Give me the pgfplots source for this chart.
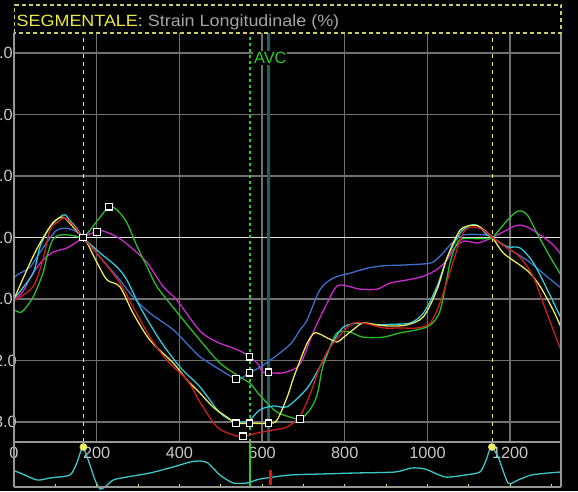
\documentclass[border=0pt]{standalone}
\usepackage{pgfplots}
\pgfplotsset{compat=1.18}
\usepackage{fontspec}
\setmainfont{Liberation Sans}
\newfontfamily\titlefont[FakeStretch=1.1]{Liberation Sans}

\definecolor{gridc}{RGB}{112,112,112}
\definecolor{framec}{RGB}{150,150,150}
\definecolor{zeroc}{RGB}{225,225,225}
\definecolor{ticktext}{RGB}{200,200,200}
\definecolor{ttl}{RGB}{235,235,60}
\definecolor{subttl}{RGB}{165,165,165}
\definecolor{boxc}{RGB}{205,205,95}
\definecolor{markc}{RGB}{235,235,100}
\definecolor{avc}{RGB}{40,205,40}
\definecolor{valve}{RGB}{30,95,95}
\definecolor{ecg}{RGB}{60,200,200}
\definecolor{sblue}{RGB}{60,110,205}
\definecolor{smag}{RGB}{205,40,205}
\definecolor{sgreen}{RGB}{40,190,40}
\definecolor{syellow}{RGB}{232,232,90}
\definecolor{scyan}{RGB}{50,200,220}
\definecolor{sred}{RGB}{205,30,30}
\definecolor{ecgred}{RGB}{225,20,20}

\newcommand{\tickfont}{\fontsize{16.3}{18}\selectfont}

\begin{document}
\begin{tikzpicture}
\fill[black] (0,0) rectangle (578pt,491pt);

% ---------------- strain curves ----------------
\begin{axis}[
  at={(14pt,49pt)}, anchor=south west,
  scale only axis, width=547pt, height=409pt,
  xmin=0, xmax=1323, ymin=-3.325, ymax=3.325,
  axis line style={draw=none},
  major tick length=0pt,
  xtick={0,200,...,1200},
  xticklabels={0,200,400,600,800,1000,1200},
  ytick={-3,-2,-1,0,1,2,3},
  yticklabels={{-3.0\kern-4pt},{-2.0\kern-4pt},-1.0,0.0,1.0,2.0,3.0},
  grid=major, grid style={gridc, line width=1.4pt},
  xticklabel style={anchor=center, yshift=-11pt, text=ticktext, font=\tickfont},
  yticklabel style={anchor=east, overlay, inner sep=0pt, xshift=-1pt, text=ticktext, font=\tickfont},
  every axis plot/.append style={line width=1.3pt},
  clip=true,
]
% zero line
\addplot[zeroc, line width=1.6pt] coordinates {(0,0) (1323,0)};
% event markers
\addplot[markc, line width=1.2pt, dash pattern=on 4pt off 4pt] coordinates {(169,-3.325) (169,3.325)};
\addplot[markc, line width=1.2pt, dash pattern=on 4pt off 4pt] coordinates {(1157,-3.325) (1157,3.325)};
\addplot[avc, line width=1.2pt, dash pattern=on 3pt off 3pt] coordinates {(571,-3.325) (571,3.325)};
\addplot[valve, line width=3pt] coordinates {(615,-3.325) (615,3.325)};

% blue
\addplot[sblue, smooth, tension=0.5] coordinates {
(2,-0.64)(15,-0.58)(39,-0.48)(63,-0.24)(87,-0.01)(104,0.12)(128,0.15)(152,0.09)(167,0)
(208,-0.32)(256,-0.69)(288,-0.97)(329,-1.23)(385,-1.50)(426,-1.78)(450,-1.94)(491,-2.12)
(537,-2.30)(554,-2.27)(569,-2.20)(595,-2.11)(627,-1.96)(661,-1.78)(675,-1.68)(692,-1.50)
(709,-1.34)(740,-0.85)(772,-0.66)(813,-0.58)(854,-0.50)(893,-0.46)(934,-0.45)(990,-0.43)
(1014,-0.40)(1038,-0.25)(1055,-0.12)(1086,0.04)(1144,0.04)(1157,0)(1193,-0.17)(1241,-0.37)
(1290,-0.64)(1323,-0.82)};
% magenta
\addplot[smag, smooth, tension=0.5] coordinates {
(2,-1.02)(22,-0.87)(46,-0.58)(70,-0.37)(94,-0.24)(128,-0.17)(150,-0.08)(167,0)(184,0.06)
(201,0.09)(213,0.11)(249,0.01)(281,-0.15)(322,-0.41)(361,-0.80)(394,-1.02)(450,-1.52)
(491,-1.70)(523,-1.78)(554,-1.87)(569,-1.94)(588,-2.04)(602,-2.19)(619,-2.20)(651,-2.20)
(685,-2.11)(700,-1.95)(723,-1.55)(757,-1.07)(781,-0.79)(806,-0.79)(837,-0.84)(878,-0.84)
(910,-0.74)(951,-0.69)(990,-0.63)(1023,-0.52)(1048,-0.36)(1062,-0.20)(1086,-0.06)
(1120,-0.09)(1144,-0.04)(1157,0)(1183,0.09)(1217,0.20)(1241,0.17)(1273,0.04)(1304,-0.12)
(1323,-0.28)};
% green
\addplot[sgreen, smooth, tension=0.5] coordinates {
(2,-1.18)(19,-1.21)(46,-0.97)(70,-0.58)(80,-0.30)(94,-0.03)(111,0.04)(135,0.04)(150,0.02)
(167,0)(184,0.12)(208,0.33)(230,0.50)(249,0.45)(273,0.24)(298,-0.15)(322,-0.48)(346,-0.80)
(390,-1.18)(450,-1.67)(498,-2.04)(547,-2.27)(571,-2.37)(590,-2.53)(612,-2.69)(636,-2.84)
(668,-2.92)(692,-2.95)(716,-2.80)(733,-2.56)(745,-2.15)(757,-1.91)(781,-1.55)(813,-1.54)
(844,-1.62)(893,-1.62)(934,-1.55)(975,-1.50)(1007,-1.42)(1031,-1.18)(1055,-0.40)
(1072,-0.09)(1086,-0.02)(1135,-0.02)(1157,0)(1193,0.28)(1219,0.43)(1241,0.37)(1265,0.07)
(1297,-0.32)(1323,-0.61)};
% cyan
\addplot[scyan, smooth, tension=0.5] coordinates {
(2,-0.98)(46,-0.58)(63,-0.15)(87,0.17)(111,0.33)(123,0.37)(135,0.28)(152,0.15)(167,0)
(208,-0.25)(249,-0.48)(273,-0.69)(305,-1.13)(353,-1.67)(402,-2.11)(450,-2.43)(498,-2.85)
(537,-3.00)(569,-2.97)(595,-2.80)(627,-2.74)(651,-2.76)(668,-2.72)(709,-2.45)(740,-2.10)
(765,-1.78)(796,-1.46)(837,-1.39)(878,-1.42)(917,-1.41)(958,-1.39)(990,-1.23)(1023,-0.80)
(1048,-0.32)(1079,0.07)(1103,0.20)(1123,0.19)(1144,0.04)(1157,0)(1193,-0.15)(1224,-0.17)
(1256,-0.41)(1290,-0.85)(1323,-1.31)};
% yellow
\addplot[syellow, smooth, tension=0.5] coordinates {
(2,-0.97)(39,-0.41)(63,-0.09)(94,0.24)(119,0.33)(143,0.17)(167,0)(177,-0.09)(201,-0.41)
(225,-0.69)(256,-0.80)(288,-1.23)(329,-1.67)(385,-2.04)(419,-2.32)(450,-2.53)(482,-2.76)
(515,-2.92)(537,-3.02)(569,-3.02)(615,-3.02)(636,-2.97)(661,-2.59)(675,-2.30)(692,-2.00)
(709,-1.72)(728,-1.55)(757,-1.63)(781,-1.70)(796,-1.63)(820,-1.50)(844,-1.39)(878,-1.42)
(910,-1.44)(951,-1.42)(990,-1.29)(1023,-0.85)(1048,-0.32)(1079,0.12)(1111,0.20)(1127,0.17)
(1157,0)(1183,-0.25)(1224,-0.45)(1248,-0.58)(1273,-0.80)(1304,-1.18)(1323,-1.46)};
% red
\addplot[sred, smooth, tension=0.5] coordinates {
(2,-1.02)(46,-0.80)(70,-0.36)(87,0.12)(111,0.28)(123,0.32)(143,0.20)(167,0)(208,-0.32)
(256,-0.74)(288,-1.13)(329,-1.62)(370,-2.00)(419,-2.32)(450,-2.68)(491,-3.08)(530,-3.21)
(554,-3.23)(588,-3.18)(627,-3.13)(661,-3.08)(692,-2.90)(716,-2.55)(740,-2.10)(765,-1.78)
(813,-1.42)(844,-1.39)(893,-1.47)(934,-1.47)(975,-1.47)(1007,-1.39)(1031,-1.05)(1055,-0.55)
(1086,0.07)(1111,0.17)(1135,0.12)(1157,0)(1193,-0.17)(1224,-0.32)(1256,-0.64)(1280,-1.07)
(1304,-1.50)(1323,-1.83)};

% peak / event markers on the curves
\addplot[only marks, mark=square*, mark size=3.2pt,
  mark options={draw=white, fill=black, line width=1.1pt}] coordinates {
(167,0)(201,0.09)(230,0.50)(569,-1.94)(569,-2.20)(537,-2.30)(615,-2.19)
(537,-3.02)(569,-3.02)(615,-3.02)(554,-3.23)(692,-2.95)};

\node[anchor=west, fill=black, inner sep=1pt, text=avc, font=\tickfont]
  at (axis cs:578,2.92) {AVC};
\end{axis}

% ---------------- ECG strip ----------------
\begin{axis}[
  at={(14pt,4pt)}, anchor=south west,
  scale only axis, width=547pt, height=45pt,
  xmin=0, xmax=1323, ymin=4, ymax=49,
  hide axis, clip=false,
]
\pgfplotsinvokeforeach{0,100,...,1300}{
  \addplot[markc, line width=1pt] coordinates {(#1,4) (#1,7)};
}
\addplot[avc, line width=1.2pt] coordinates {(571,3) (571,49)};
\addplot[markc, line width=1.2pt, dash pattern=on 3pt off 3pt] coordinates {(169,44) (169,49)};
\addplot[markc, line width=1.2pt, dash pattern=on 3pt off 3pt] coordinates {(1157,44) (1157,49)};
\addplot[ecg, line width=1.3pt, smooth, tension=0.4] coordinates {
(0,20.3)(15,18)(56,11)(87,13)(128,15)(140,18)(152,28)(160,38)(167,44)(177,34)(196,11)
(208,2)(220,4)(240,11)(273,14)(329,18)(385,24)(426,29)(450,30)(469,28)(498,16)(530,8)
(564,8)(595,12)(668,16)(743,17)(825,18)(922,19)(961,23)(994,22)(1043,14)(1091,16)
(1127,19)(1142,31)(1154,44)(1171,34)(1195,8)(1219,11)(1251,16)(1292,18)(1323,19)};
\addplot[ecgred, line width=3pt] coordinates {(620,6) (620,21)};
\addplot[only marks, mark=*, mark size=3.6pt,
  mark options={draw=markc, fill=markc}] coordinates {(168,44)(1156,44)};
\end{axis}

% frame lines
\draw[framec, line width=1.4pt] (14pt,4pt) -- (14pt,458pt);
\draw[framec, line width=1.4pt] (561pt,4pt) -- (561pt,458pt);
\draw[framec, line width=1.4pt] (14pt,4pt) -- (561pt,4pt);
\draw[framec, line width=1.4pt] (14pt,49pt) -- (561pt,49pt);

% title box
\draw[boxc, line width=1.3pt, dash pattern=on 4pt off 3pt] (14.5pt,458pt) rectangle (561pt,486pt);
\node[anchor=base west, inner sep=0pt, font=\titlefont\fontsize{16.3}{18}\selectfont]
  at (16.5pt,464pt) {\textcolor{ttl}{SEGMENTALE:} \textcolor{subttl}{Strain Longitudinale (\%)}};

\pgfresetboundingbox
\path[use as bounding box] (0,0) rectangle (578pt,491pt);
\end{tikzpicture}
\end{document}
